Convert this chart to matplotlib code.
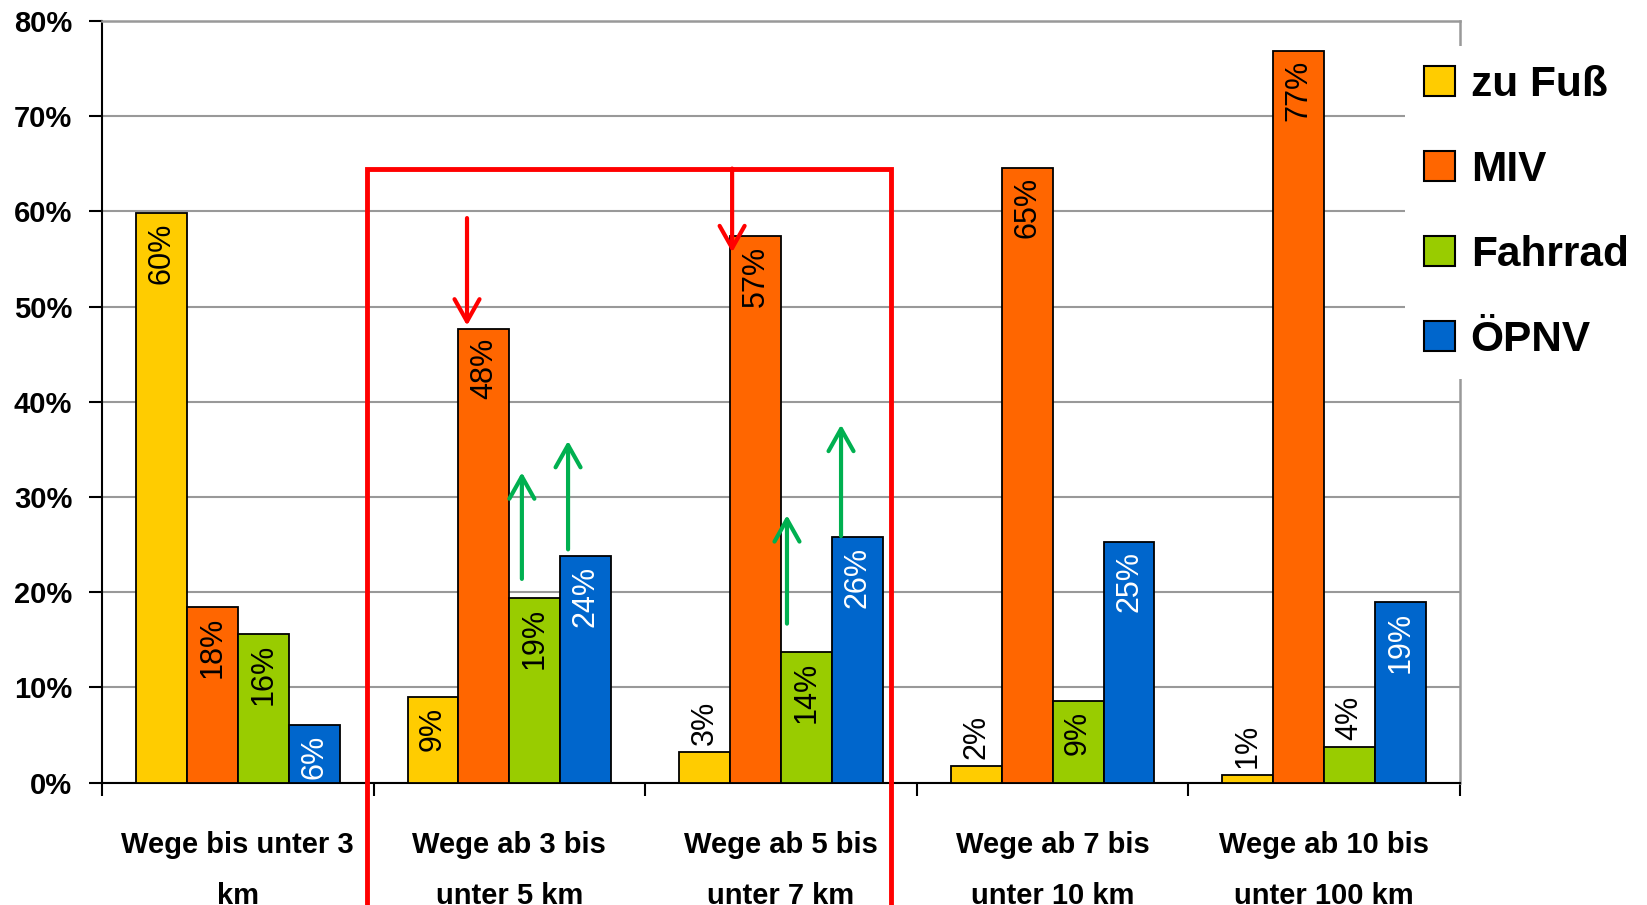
import numpy as np
import matplotlib.pyplot as plt
from matplotlib.patches import Patch

plt.rcParams['font.family'] = ['Liberation Sans', 'DejaVu Sans']

# Modal split by trip distance (in %)
categories = ["Wege bis unter 3\nkm", "Wege ab 3 bis\nunter 5 km", "Wege ab 5 bis\nunter 7 km",
              "Wege ab 7 bis\nunter 10 km", "Wege ab 10 bis\nunter 100 km"]
modes = ["zu Fuß", "MIV", "Fahrrad", "ÖPNV"]
zu_fuss = [59.8, 9.0, 3.2, 1.8, 0.8]
miv = [18.4, 47.7, 57.4, 64.6, 76.9]
fahrrad = [15.6, 19.4, 13.7, 8.6, 3.7]
oepnv = [6.1, 23.8, 25.8, 25.3, 19.0]

colors = ["#FFCC00", "#FF6600", "#99CC00", "#0066CC"]
label_colors = ["black", "black", "black", "white"]

# annotation overlay (data coords): red frame, red down arrows, green up arrows
frame_x = [0.476, 2.405]
frame_top = 64.5
red_arrows = [((0.844, 59.3), (0.844, 48.0)), ((1.82, 64.5), (1.82, 55.7))]
green_arrows = [((1.046, 21.4), (1.046, 32.6)), ((1.216, 24.5), (1.216, 35.9)),
                ((2.022, 16.7), (2.022, 28.1)), ((2.221, 25.9), (2.221, 37.6))]

fig = plt.figure(figsize=(16.47, 9.05), dpi=100)
ax = fig.add_axes([0.0619, 0.1352, 0.8246, 0.8416])

x = np.arange(len(categories))
w = 0.1875
series = [zu_fuss, miv, fahrrad, oepnv]
for i, vals in enumerate(series):
    pos = x + (i - 1.5) * w
    ax.bar(pos, vals, w, color=colors[i], edgecolor='black', linewidth=1.3, zorder=3)
    for p, v in zip(pos, vals):
        if v > 5:
            ax.annotate(f"{v:.0f}%", (p, v), xytext=(0, -7), textcoords='offset points',
                        rotation=90, ha='center', va='top', fontsize=22,
                        color=label_colors[i], zorder=4)
        else:
            ax.annotate(f"{v:.0f}%", (p, v), xytext=(0, 5), textcoords='offset points',
                        rotation=90, ha='center', va='bottom', fontsize=22,
                        color='black', zorder=4)

ax.set_xlim(-0.5, 4.5)
ax.set_ylim(0, 80)
ax.yaxis.grid(True, color='#999999', linewidth=1.5, zorder=0)
ax.set_axisbelow(True)

yt = list(range(0, 81, 10))
ax.set_yticks(yt)
ax.set_yticklabels([f"{t}%" for t in yt], fontsize=21, fontweight='bold')
ax.tick_params(axis='y', length=9.4, width=1.5, pad=12, direction='out')

ax.set_xticks(x)
ax.set_xticklabels(categories, fontsize=21, fontweight='bold', linespacing=2.05)
ax.tick_params(axis='x', which='major', length=0, pad=35)
ax.set_xticks(np.arange(-0.5, 4.6, 1), minor=True)
ax.tick_params(axis='x', which='minor', length=9, width=1.5, direction='out')

for s in ['left', 'bottom']:
    ax.spines[s].set_color('black')
    ax.spines[s].set_linewidth(1.5)
for s in ['top', 'right']:
    ax.spines[s].set_color('#999999')
    ax.spines[s].set_linewidth(1.8)

# red frame around the 3-7 km groups, running off the bottom of the figure
ax.plot([frame_x[0], frame_x[0], frame_x[1], frame_x[1]], [-40, frame_top, frame_top, -40],
        color='red', linewidth=3.5, clip_on=False, zorder=6, solid_joinstyle='miter')

for start, end in red_arrows:
    ax.annotate('', xy=end, xytext=start,
                arrowprops=dict(arrowstyle='->,head_length=0.8,head_width=0.45', color='red',
                                lw=3, shrinkA=0, shrinkB=0, mutation_scale=20), zorder=7)
for start, end in green_arrows:
    ax.annotate('', xy=end, xytext=start,
                arrowprops=dict(arrowstyle='->,head_length=0.8,head_width=0.45', color='#00B050',
                                lw=3, shrinkA=0, shrinkB=0, mutation_scale=20), zorder=7)

handles = [Patch(facecolor=c, edgecolor='black', linewidth=1.5) for c in colors]
fig.legend(handles, modes, loc='upper left', bbox_to_anchor=(1405 / 1647, 1 - 46 / 905),
           prop=dict(size=30.5, weight='bold'), frameon=True, fancybox=False,
           edgecolor='none', facecolor='white', framealpha=1,
           handlelength=0.72, handleheight=0.72, handletextpad=0.38,
           labelspacing=1.06, borderpad=0.45, borderaxespad=0)

fig.savefig('out.png', dpi=100)
